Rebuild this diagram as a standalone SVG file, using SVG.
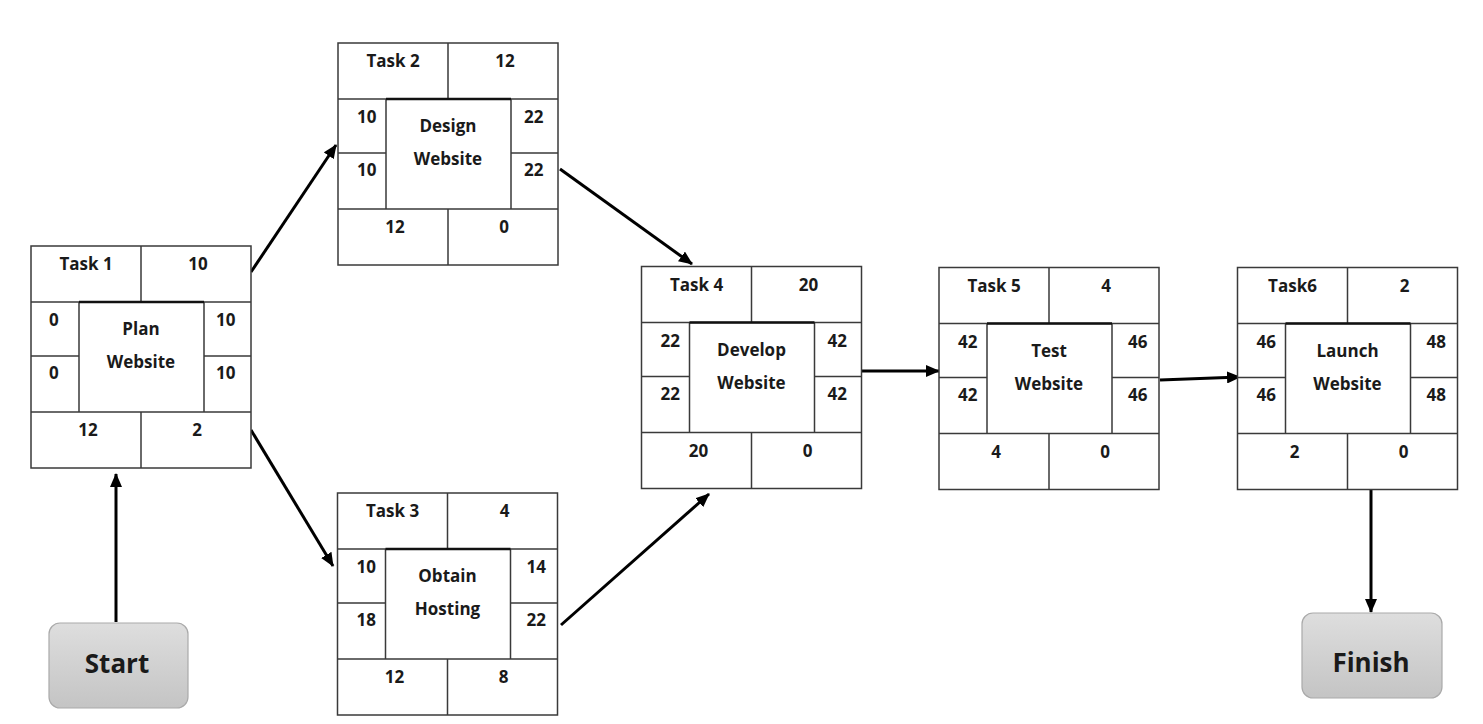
<svg xmlns="http://www.w3.org/2000/svg" xmlns:xlink="http://www.w3.org/1999/xlink" width="1483" height="724" viewBox="0 0 1483 724">
<style>
.ln{stroke:#3a3a3a;stroke-width:1.5;fill:none}
.bx{fill:#ffffff;stroke:#3a3a3a;stroke-width:1.5}
.top{stroke:#111;stroke-width:2.5}
text{font-family:"Open Sans","Liberation Sans",sans-serif;font-weight:bold;fill:#1a1a1a}
.t{font-size:17px}
.c{text-anchor:middle}
.big{font-size:26px;text-anchor:middle}
.arr{stroke:#000;stroke-width:3;fill:none;marker-end:url(#ah)}
.btn{fill:url(#gr);stroke:#aaaaaa;stroke-width:1.2}
</style>
<defs>
<marker id="ah" markerUnits="userSpaceOnUse" markerWidth="14" markerHeight="12" refX="13" refY="6" orient="auto">
<path d="M0,0 L14,6 L0,12 z" fill="#000"/>
</marker>
<linearGradient id="gr" x1="0" y1="0" x2="0" y2="1">
<stop offset="0" stop-color="#dedede"/>
<stop offset="1" stop-color="#c4c4c4"/>
</linearGradient>
<g id="frame">
<rect class="bx" x="0" y="0" width="220" height="222"/>
<path class="ln" d="M0,56 H220 M0,166 H220 M110,0 V56 M110,166 V222 M48,56 V166 M173,56 V166 M0,110 H48 M173,110 H220"/>
<path class="top" d="M48,56 H173"/>
</g>
</defs>
<rect width="1483" height="724" fill="#fff"/>

<g id="connectors">
<path class="arr" d="M116,622 V474"/>
<path class="arr" d="M251,272 L336,145"/>
<path class="arr" d="M251,430 L333,566"/>
<path class="arr" d="M560,169 L692,264"/>
<path class="arr" d="M561,625 L709,494"/>
<path class="arr" d="M862,371 L939,371"/>
<path class="arr" d="M1160,380 L1240,377"/>
<path class="arr" d="M1371,490 V612"/>
</g>

<g id="start">
<rect class="btn" x="49" y="623" width="139" height="85" rx="11"/>
<text class="big" x="117" y="673">Start</text>
</g>

<g id="finish">
<rect class="btn" x="1302" y="613" width="140" height="85" rx="11"/>
<text class="big" x="1371" y="672">Finish</text>
</g>

<g id="task1" transform="translate(31,246)">
<use xlink:href="#frame"/>
<text class="t c" x="55" y="24">Task 1</text><text class="t c" x="167" y="24">10</text>
<text class="t" x="18" y="80">0</text><text class="t" x="18" y="133">0</text>
<text class="t" x="185" y="80">10</text><text class="t" x="185" y="133">10</text>
<text class="t c" x="110" y="89">Plan</text><text class="t c" x="110" y="122">Website</text>
<text class="t c" x="57" y="190">12</text><text class="t c" x="166" y="190">2</text>
</g>

<g id="task2" transform="translate(338,43)">
<use xlink:href="#frame"/>
<text class="t c" x="55" y="24">Task 2</text><text class="t c" x="167" y="24">12</text>
<text class="t" x="19" y="80">10</text><text class="t" x="19" y="133">10</text>
<text class="t" x="186" y="80">22</text><text class="t" x="186" y="133">22</text>
<text class="t c" x="110" y="89">Design</text><text class="t c" x="110" y="122">Website</text>
<text class="t c" x="57" y="190">12</text><text class="t c" x="166" y="190">0</text>
</g>

<g id="task3" transform="translate(337.5,493)">
<use xlink:href="#frame"/>
<text class="t c" x="55" y="24">Task 3</text><text class="t c" x="167" y="24">4</text>
<text class="t" x="19" y="80">10</text><text class="t" x="19" y="133">18</text>
<text class="t" x="189" y="80">14</text><text class="t" x="189" y="133">22</text>
<text class="t c" x="110" y="89">Obtain</text><text class="t c" x="110" y="122">Hosting</text>
<text class="t c" x="57" y="190">12</text><text class="t c" x="166" y="190">8</text>
</g>

<g id="task4" transform="translate(641.5,266.5)">
<use xlink:href="#frame"/>
<text class="t c" x="55" y="24">Task 4</text><text class="t c" x="167" y="24">20</text>
<text class="t" x="19" y="80">22</text><text class="t" x="19" y="133">22</text>
<text class="t" x="186" y="80">42</text><text class="t" x="186" y="133">42</text>
<text class="t c" x="110" y="89">Develop</text><text class="t c" x="110" y="122">Website</text>
<text class="t c" x="57" y="190">20</text><text class="t c" x="166" y="190">0</text>
</g>

<g id="task5" transform="translate(939,267.5)">
<use xlink:href="#frame"/>
<text class="t c" x="55" y="24">Task 5</text><text class="t c" x="167" y="24">4</text>
<text class="t" x="19" y="80">42</text><text class="t" x="19" y="133">42</text>
<text class="t" x="189" y="80">46</text><text class="t" x="189" y="133">46</text>
<text class="t c" x="110" y="89">Test</text><text class="t c" x="110" y="122">Website</text>
<text class="t c" x="57" y="190">4</text><text class="t c" x="166" y="190">0</text>
</g>

<g id="task6" transform="translate(1237.5,267.5)">
<use xlink:href="#frame"/>
<text class="t c" x="55" y="24">Task6</text><text class="t c" x="167" y="24">2</text>
<text class="t" x="19" y="80">46</text><text class="t" x="19" y="133">46</text>
<text class="t" x="189" y="80">48</text><text class="t" x="189" y="133">48</text>
<text class="t c" x="110" y="89">Launch</text><text class="t c" x="110" y="122">Website</text>
<text class="t c" x="57" y="190">2</text><text class="t c" x="166" y="190">0</text>
</g>
</svg>
